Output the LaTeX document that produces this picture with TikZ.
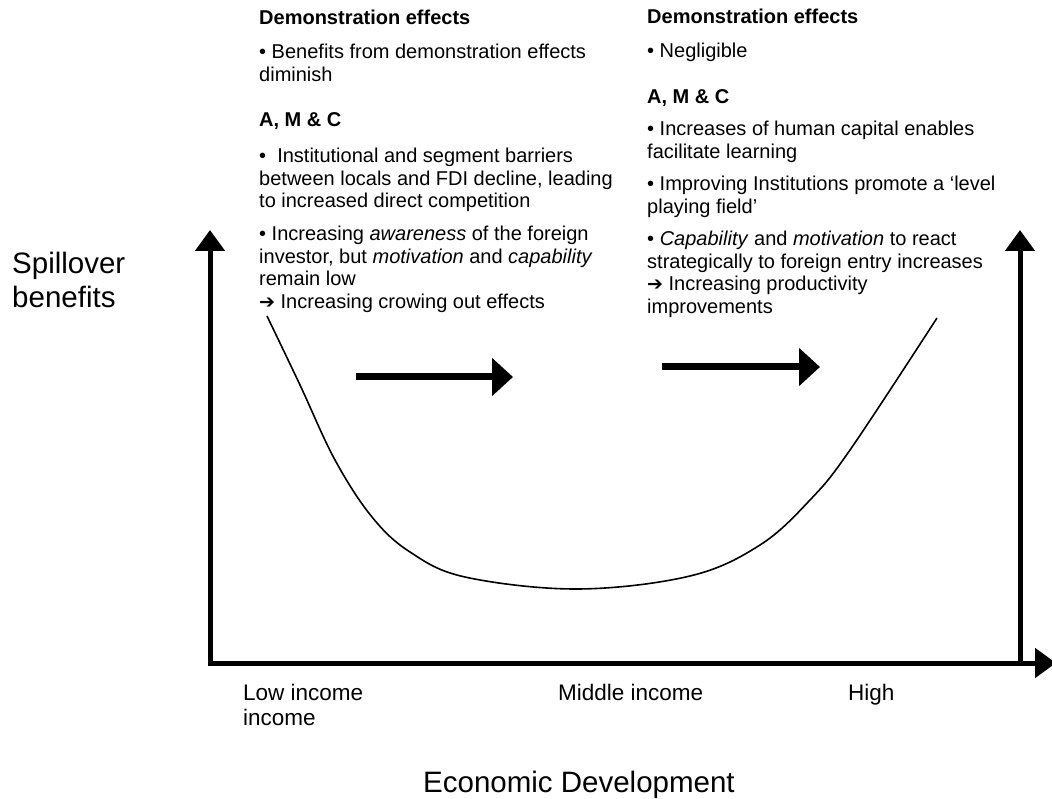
\documentclass[tikz,border=0pt]{standalone}
\usepackage{fontspec}
\setmainfont{Liberation Sans}
\newfontfamily\arrowfont{DejaVu Sans}
\usetikzlibrary{arrows.meta}
\tikzset{
	axis/.style={line width=5pt, -{Triangle[length=21pt,width=29pt]}},
	move/.style={line width=7pt, -{Triangle[length=21pt,width=37pt]}},
	curve/.style={line width=1.6pt},
	txt/.style={anchor=base west, align=left, inner sep=0pt, font=\fontsize{20}{22.5}\selectfont},
	head/.style={txt, font=\fontsize{20}{22.5}\selectfont\bfseries},
	lbl/.style={anchor=base west, align=left, inner sep=0pt, font=\fontsize{22.5}{25.5}\selectfont},
	big/.style={anchor=base west, align=left, inner sep=0pt, font=\fontsize{29.5}{34}\selectfont}
}
\newcommand{\thickarrow}{{\arrowfont\fontsize{19}{19}\selectfont ➔}}

\begin{document}
\begin{tikzpicture}[x=1pt,y=-1pt]
			\useasboundingbox (0,0) rectangle (1052,799);

			% axes
			\coordinate (yFoot) at (210,665.5);
			\coordinate (yTop) at (210,230);
			\coordinate (xStart) at (207.5,663);
			\coordinate (xEnd) at (1056,663);
			\coordinate (rFoot) at (1020,663);
			\coordinate (rTop) at (1020,230);
			\draw[axis] (yFoot) -- (yTop);
			\draw[axis] (xStart) -- (xEnd);
			\draw[axis] (rFoot) -- (rTop);

			% axis labels (multi-line nodes sit on their last baseline)
			\node[big] (yLabel) at (12,308) {Spillover\\benefits};
			\node[lbl] (lowInc) at (243,725.5) {Low income\\income};
			\node[lbl] (midInc) at (558,700) {Middle income};
			\node[lbl] (highInc) at (848,700) {High};
			\node[big] (xLabel) at (423,792) {Economic Development};

			% the U curve
			\draw[curve] plot[smooth, tension=0.6] coordinates {(267,316) (300,385) (335,460) (372,517) (410,552) (465,577) (577,589) (690,576) (760,545) (810,500) (850,450) (937,318)};

			% moves along the curve
			\coordinate (moveA) at (356,377);
			\coordinate (moveB) at (513,377);
			\coordinate (moveC) at (662,367);
			\coordinate (moveD) at (820,367);
			\draw[move] (moveA) -- (moveB);
			\draw[move] (moveC) -- (moveD);

			% left text block
			\node[head] (demL) at (259,25) {Demonstration effects};
			\node[txt] (benL) at (259,81.5) {• Benefits from demonstration effects\\diminish};
			\node[head] (amcL) at (259,127) {A, M \& C};
			\node[txt] (barL) at (259,208) {•~~Institutional and segment barriers\\between locals and FDI decline, leading\\to increased direct competition};
			\node[txt] (awaL) at (259,308.5) {• Increasing \textit{awareness} of the foreign\\investor, but \textit{motivation} and \textit{capability}\\remain low\\\thickarrow{} Increasing crowing out effects};

			% right text block
			\node[head] (demR) at (647,24) {Demonstration effects};
			\node[txt] (negR) at (647,58) {• Negligible};
			\node[head] (amcR) at (647,104) {A, M \& C};
			\node[txt] (humR) at (647,158.5) {• Increases of human capital enables\\facilitate learning};
			\node[txt] (insR) at (647,213.5) {• Improving Institutions promote a ‘level\\playing field’};
			\node[txt] (capR) at (647,313.5) {• \textit{Capability} and \textit{motivation} to react\\strategically to foreign entry increases\\\thickarrow{} Increasing productivity\\improvements};
\end{tikzpicture}
\end{document}
